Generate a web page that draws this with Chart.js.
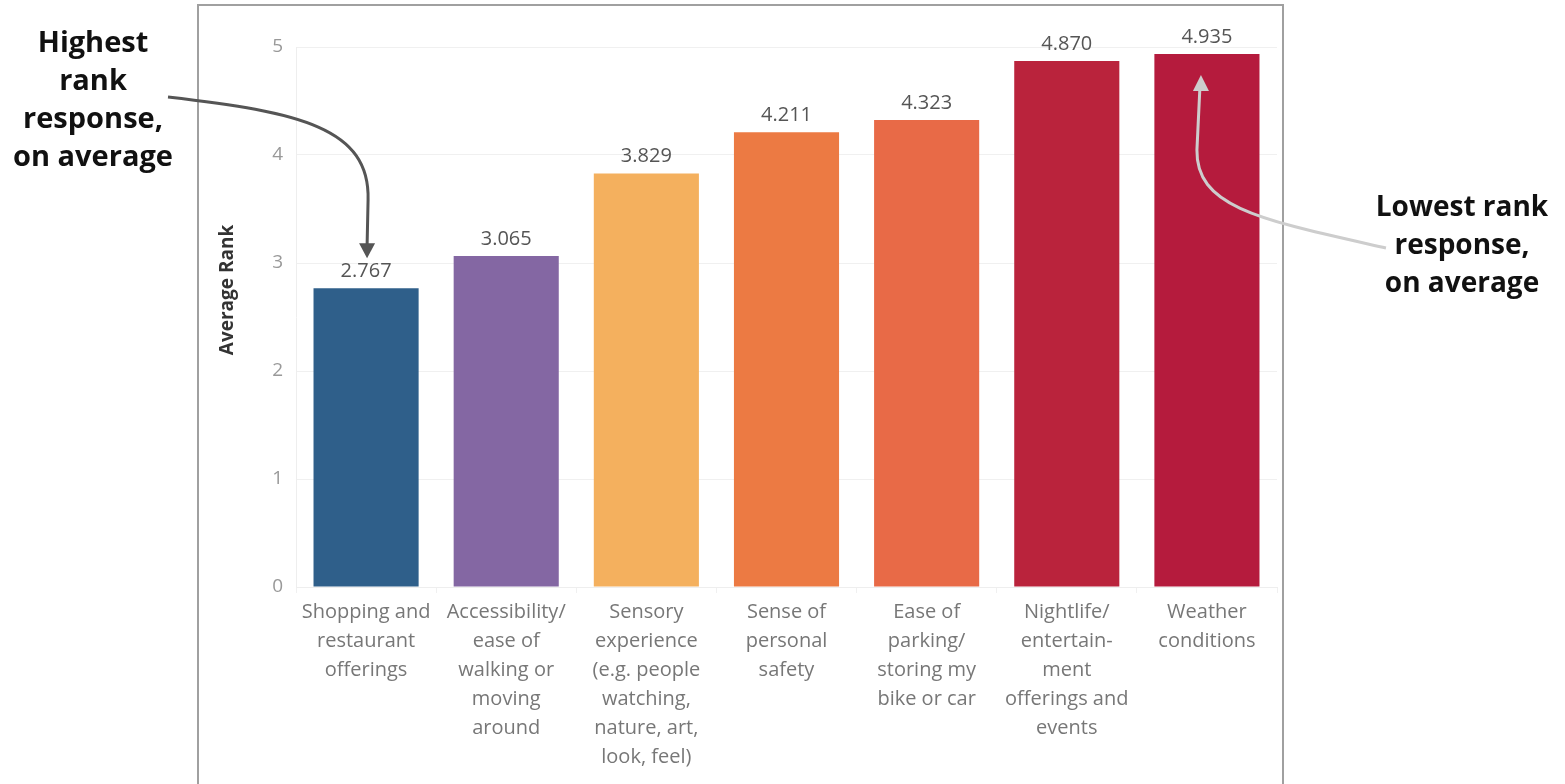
<!DOCTYPE html>
<html>
<head>
<meta charset="utf-8">
<script src="https://cdn.jsdelivr.net/npm/chart.js@4"></script>
<style>
html,body{margin:0;padding:0;background:#fff;}
#wrap{position:relative;width:1565px;height:784px;overflow:hidden;}
#frame{position:absolute;left:197px;top:4px;width:1087px;height:820px;border:2px solid #a0a0a0;box-sizing:border-box;}
canvas{position:absolute;left:0;top:0;}
</style>
</head>
<body>
<div id="wrap">
<div id="frame"></div>
<canvas id="c" width="1565" height="784"></canvas>
</div>
<script>
const categories = [
  ["Shopping and","restaurant","offerings"],
  ["Accessibility/","ease of","walking or","moving","around"],
  ["Sensory","experience","(e.g. people","watching,","nature, art,","look, feel)"],
  ["Sense of","personal","safety"],
  ["Ease of","parking/","storing my","bike or car"],
  ["Nightlife/","entertain-","ment","offerings and","events"],
  ["Weather","conditions"]
];
const averageRank = [2.767, 3.065, 3.829, 4.211, 4.323, 4.870, 4.935];
const valueLabels = ["2.767","3.065","3.829","4.211","4.323","4.870","4.935"];
const yTicks = [0,1,2,3,4,5];
const barColors = ["#2f5f8a","#8467a3","#f4b05e","#ec7a43","#e86a47","#ba233c","#b51b3d"];
const yTitle = "Average Rank";
const noteLeft = ["Highest","rank","response,","on average"];
const noteRight = ["Lowest rank","response,","on average"];

const overlay = {
  id:'overlay',
  afterDatasetsDraw(chart){
    const ctx = chart.ctx;
    const meta = chart.getDatasetMeta(0);
    ctx.save();
    // y axis title
    ctx.save();
    ctx.translate(228, 290);
    ctx.rotate(-Math.PI/2);
    ctx.font = 'bold 19px "Open Sans", sans-serif';
    ctx.fillStyle = '#333';
    ctx.textAlign = 'center';
    ctx.textBaseline = 'middle';
    ctx.fillText(yTitle, 0, 0);
    ctx.restore();
    // value labels
    ctx.font = '20px "Open Sans", sans-serif';
    ctx.fillStyle = '#555';
    ctx.textAlign = 'center';
    ctx.textBaseline = 'middle';
    meta.data.forEach((b,i)=>{ ctx.fillText(valueLabels[i], b.x, b.y - 17); });
    // annotations text
    ctx.font = 'bold 29px "Open Sans", sans-serif';
    ctx.fillStyle = '#111';
    noteLeft.forEach((t,i)=>ctx.fillText(t, 93, 44 + i*38));
    ctx.font = 'bold 28px "Open Sans", sans-serif';
    noteRight.forEach((t,i)=>ctx.fillText(t, 1462, 208 + i*38));
    // left arrow
    const b0 = meta.data[0];
    const tipL = {x:b0.x+1, y:b0.y-30};
    ctx.strokeStyle = '#555'; ctx.fillStyle = '#555'; ctx.lineWidth = 3;
    ctx.beginPath();
    ctx.moveTo(168,97);
    ctx.bezierCurveTo(300,112,tipL.x+3,128,tipL.x+1,200);
    ctx.lineTo(tipL.x, tipL.y-12);
    ctx.stroke();
    ctx.beginPath();
    ctx.moveTo(tipL.x, tipL.y); ctx.lineTo(tipL.x-8, tipL.y-15); ctx.lineTo(tipL.x+8, tipL.y-15); ctx.closePath(); ctx.fill();
    // right arrow
    const b6 = meta.data[6];
    const tipR = {x:b6.x-6, y:b6.y+21};
    ctx.strokeStyle = '#cdcdcd'; ctx.fillStyle = '#cdcdcd';
    ctx.beginPath();
    ctx.moveTo(1386,248);
    ctx.bezierCurveTo(1262,220,tipR.x-5,208,tipR.x-4,150);
    ctx.lineTo(tipR.x-1, tipR.y+12);
    ctx.stroke();
    ctx.beginPath();
    ctx.moveTo(tipR.x, tipR.y); ctx.lineTo(tipR.x-8, tipR.y+16); ctx.lineTo(tipR.x+8, tipR.y+16); ctx.closePath(); ctx.fill();
    ctx.restore();
  }
};

new Chart(document.getElementById('c'), {
  type:'bar',
  data:{
    labels: categories,
    datasets:[{ data: averageRank, backgroundColor: barColors, barPercentage:0.75, categoryPercentage:1.0 }]
  },
  options:{
    responsive:false,
    animation:false,
    devicePixelRatio:1,
    layout:{padding:{left:200,right:288,top:47,bottom:0}},
    plugins:{legend:{display:false},tooltip:{enabled:false}},
    scales:{
      y:{
        min:0,max:5,
        afterBuildTicks(s){ s.ticks = yTicks.map(v=>({value:v})); },
        afterFit(s){ s.width = 96; },
        ticks:{color:'#999',font:{family:'"Open Sans", sans-serif',size:19},padding:13},
        grid:{color:'#f0f0f0',drawTicks:false,lineWidth:1},
        border:{display:true,color:'#eeeeee'}
      },
      x:{
        afterFit(s){ s.height = 197; },
        ticks:{color:'#777',font:{family:'"Open Sans", sans-serif',size:20,lineHeight:1.45},padding:5,maxRotation:0,autoSkip:false},
        grid:{display:true,offset:true,color:'#f0f0f0',drawOnChartArea:false,tickLength:6},
        border:{display:true,color:'#eeeeee'}
      }
    }
  },
  plugins:[overlay]
});
</script>
</body>
</html>
